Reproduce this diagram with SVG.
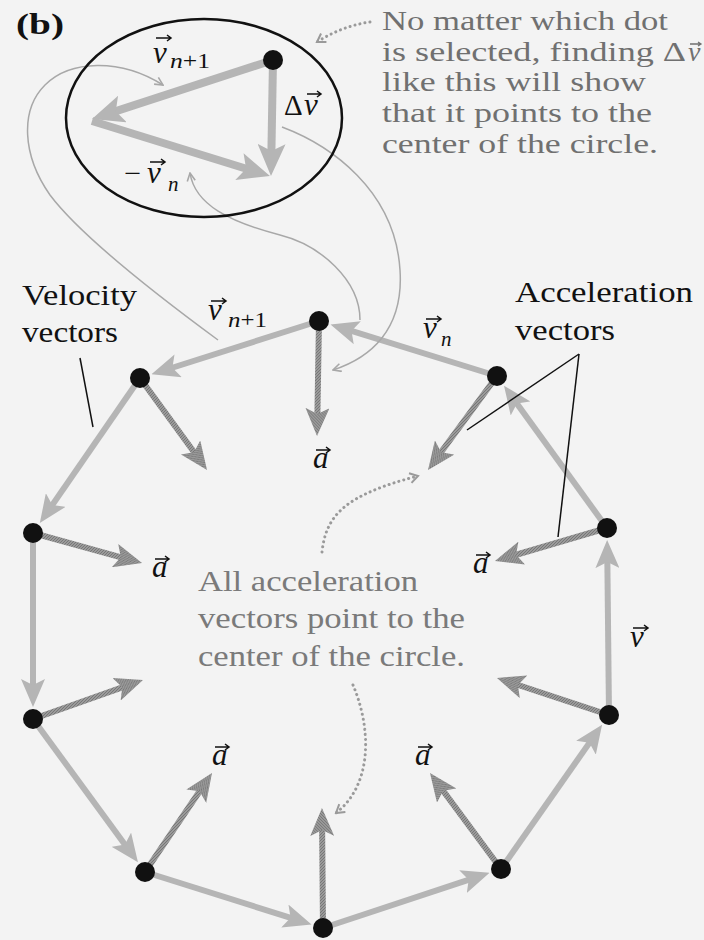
<svg xmlns="http://www.w3.org/2000/svg" width="704" height="940" viewBox="0 0 704 940">
<defs>
<pattern id="hatch" width="3" height="3" patternUnits="userSpaceOnUse">
<rect width="3" height="3" fill="#9a9a9a"/>
<path d="M0,3 L3,0" stroke="#777" stroke-width="1"/>
</pattern>
<marker id="hv" viewBox="0 0 28 24" refX="12" refY="12" markerWidth="28" markerHeight="24" markerUnits="userSpaceOnUse" orient="auto"><path d="M0,0 L28,12 L0,24 L6,12 z" fill="#b5b5b5"/></marker>
<marker id="ha" viewBox="0 0 28 24" refX="12" refY="12" markerWidth="28" markerHeight="24" markerUnits="userSpaceOnUse" orient="auto"><path d="M0,0 L28,12 L0,24 L6,12 z" fill="url(#hatch)"/></marker>
<marker id="hb" viewBox="0 0 32 28" refX="14" refY="14" markerWidth="32" markerHeight="28" markerUnits="userSpaceOnUse" orient="auto"><path d="M0,0 L32,14 L0,28 L7,14 z" fill="#b5b5b5"/></marker>
<marker id="ht" viewBox="0 0 10 10" refX="9" refY="5" markerWidth="10" markerHeight="10" markerUnits="userSpaceOnUse" orient="auto"><path d="M1,1 L9,5 L1,9" stroke="#a8a8a8" stroke-width="1.6" fill="none"/></marker>
<marker id="hd" viewBox="0 0 12 12" refX="10" refY="6" markerWidth="12" markerHeight="12" markerUnits="userSpaceOnUse" orient="auto"><path d="M2,1 L10,6 L2,11" stroke="#9a9a9a" stroke-width="2" fill="none"/></marker>
</defs>
<style>
.vel{stroke:#b5b5b5;stroke-width:6;fill:none;marker-end:url(#hv)}
.acc{stroke:url(#hatch);stroke-width:6;fill:none;marker-end:url(#ha)}
.big{stroke:#b5b5b5;stroke-width:8;fill:none;marker-end:url(#hb)}
.thin{stroke:#a8a8a8;stroke-width:1.5;fill:none;marker-end:url(#ht)}
.dotted{stroke:#9a9a9a;stroke-width:3;stroke-dasharray:0.1 5;stroke-linecap:round;fill:none;marker-end:url(#hd)}
.lead{stroke:#111;stroke-width:1.5;fill:none}
text{font-family:"Liberation Serif","Times New Roman",Times,Tinos,"Nimbus Roman","Nimbus Roman No9 L",FreeSerif,serif}
.note{font-size:28px;fill:#707070}
.note2{font-size:30px;fill:#7a7a7a}
.lab{font-size:29px;fill:#111}
.bold{font-size:29px;font-weight:bold;fill:#111}
.it{font-style:italic;font-size:31px;fill:#111}
.sub{font-size:21px;fill:#111}
.ov{stroke:#111;stroke-width:1.5;fill:none}
.dot{fill:#111}
</style>
<rect width="704" height="940" fill="#f3f3f3"/>

<g id="connectors">
<line class="vel" x1="319" y1="321" x2="166.7" y2="369.5"/>
<line class="vel" x1="140" y1="378" x2="48.9" y2="509.9"/>
<line class="vel" x1="33" y1="533" x2="33" y2="691"/>
<line class="vel" x1="33" y1="719" x2="128.5" y2="849.4"/>
<line class="vel" x1="145" y1="872" x2="296.3" y2="919.6"/>
<line class="vel" x1="323" y1="928" x2="474.4" y2="877.8"/>
<line class="vel" x1="501" y1="869" x2="592.9" y2="737.9"/>
<line class="vel" x1="609" y1="715" x2="607.3" y2="556"/>
<line class="vel" x1="607" y1="528" x2="513.4" y2="398.7"/>
<line class="vel" x1="497" y1="376" x2="345.8" y2="329.2"/>
<line class="acc" x1="319" y1="321" x2="317.3" y2="420"/>
<line class="acc" x1="140" y1="378" x2="197.6" y2="457.1"/>
<line class="acc" x1="33" y1="533" x2="126.6" y2="558.8"/>
<line class="acc" x1="33" y1="719" x2="127.9" y2="685.3"/>
<line class="acc" x1="145" y1="872" x2="203" y2="786.3"/>
<line class="acc" x1="323" y1="928" x2="322.1" y2="824"/>
<line class="acc" x1="501" y1="869" x2="439.5" y2="785.9"/>
<line class="acc" x1="609" y1="715" x2="512.2" y2="683"/>
<line class="acc" x1="607" y1="528" x2="510.3" y2="556.5"/>
<line class="acc" x1="497" y1="376" x2="437.5" y2="457.1"/>
<line class="big" x1="273" y1="60" x2="109.1" y2="113.4"/>
<line class="big" x1="92" y1="121" x2="252.8" y2="170.7"/>
<line class="big" x1="273" y1="60" x2="271.3" y2="158"/>
<path class="thin" d="M218,340 C150,290 80,235 50,195 C22,155 20,110 45,85 C70,60 120,58 163,85"/>
<path class="thin" d="M360,320 C360,280 320,245 280,235 C230,222 195,205 190,173"/>
<path class="thin" d="M282,127 C330,145 395,190 400,270 C404,330 370,358 333,370"/>
<path class="dotted" d="M370,22 Q342,26 317,42"/>
<path class="dotted" d="M322,552 C326,515 345,495 418,476"/>
<path class="dotted" d="M353,685 C372,730 372,785 336,813"/>
<line class="lead" x1="80" y1="358" x2="93" y2="427"/>
<line class="lead" x1="579" y1="354" x2="467" y2="430"/>
<line class="lead" x1="579" y1="354" x2="558" y2="537"/>
</g>

<g id="ellipse">
<ellipse cx="204" cy="118" rx="138" ry="99" fill="none" stroke="#111" stroke-width="2.5"/>
</g>

<g id="dot-e"><circle class="dot" cx="273" cy="60" r="10"/></g>
<g id="dot-0"><circle class="dot" cx="319" cy="321" r="10"/></g>
<g id="dot-1"><circle class="dot" cx="140" cy="378" r="10"/></g>
<g id="dot-2"><circle class="dot" cx="33" cy="533" r="10"/></g>
<g id="dot-3"><circle class="dot" cx="33" cy="719" r="10"/></g>
<g id="dot-4"><circle class="dot" cx="145" cy="872" r="10"/></g>
<g id="dot-5"><circle class="dot" cx="323" cy="928" r="10"/></g>
<g id="dot-6"><circle class="dot" cx="501" cy="869" r="10"/></g>
<g id="dot-7"><circle class="dot" cx="609" cy="715" r="10"/></g>
<g id="dot-8"><circle class="dot" cx="607" cy="528" r="10"/></g>
<g id="dot-9"><circle class="dot" cx="497" cy="376" r="10"/></g>

<g id="label-b">
<text class="bold" x="16" y="34" textLength="48" lengthAdjust="spacingAndGlyphs">(b)</text>
</g>

<g id="label-ellipse-vn1">
<text class="it" x="153" y="63">v</text>
<text class="sub" x="170" y="68" textLength="40" lengthAdjust="spacingAndGlyphs"><tspan font-style="italic">n</tspan>+1</text>
<path class="ov" d="M156,38 H171 M167,35 L171,38 L167,41"/>
</g>
<g id="label-ellipse-dv">
<text class="lab" x="284" y="115" font-size="28">Δ</text>
<text class="it" x="304" y="115">v</text>
<path class="ov" d="M307,94 H321 M317,91 L321,94 L317,97"/>
</g>
<g id="label-ellipse-mvn">
<text class="lab" x="124" y="183" textLength="17" lengthAdjust="spacingAndGlyphs">−</text>
<text class="it" x="147" y="183">v</text>
<text class="sub" x="168" y="191" font-style="italic">n</text>
<path class="ov" d="M150,162 H165 M161,159 L165,162 L161,165"/>
</g>

<g id="label-note-top">
<text class="note" x="382" y="30" textLength="286" lengthAdjust="spacingAndGlyphs">No matter which dot</text>
<text class="note" x="382" y="61" textLength="304" lengthAdjust="spacingAndGlyphs">is selected, finding Δ</text>
<text class="note" x="688" y="61" font-style="italic">v</text>
<path d="M690,44 H701 M698,42 L701,44 L698,46" stroke="#707070" stroke-width="1.3" fill="none"/>
<text class="note" x="382" y="91" textLength="264" lengthAdjust="spacingAndGlyphs">like this will show</text>
<text class="note" x="382" y="122" textLength="270" lengthAdjust="spacingAndGlyphs">that it points to the</text>
<text class="note" x="382" y="153" textLength="276" lengthAdjust="spacingAndGlyphs">center of the circle.</text>
</g>

<g id="label-velocity">
<text class="lab" x="22" y="305" textLength="115" lengthAdjust="spacingAndGlyphs">Velocity</text>
<text class="lab" x="22" y="342" textLength="96" lengthAdjust="spacingAndGlyphs">vectors</text>
</g>
<g id="label-acceleration">
<text class="lab" x="515" y="302" textLength="178" lengthAdjust="spacingAndGlyphs">Acceleration</text>
<text class="lab" x="515" y="340" textLength="100" lengthAdjust="spacingAndGlyphs">vectors</text>
</g>

<g id="label-vn1">
<text class="it" x="208" y="320">v</text>
<text class="sub" x="228" y="327" textLength="39" lengthAdjust="spacingAndGlyphs"><tspan font-style="italic">n</tspan>+1</text>
<path class="ov" d="M211,301 H226 M222,298 L226,301 L222,304"/>
</g>
<g id="label-vn">
<text class="it" x="423" y="338">v</text>
<text class="sub" x="441" y="346" font-style="italic">n</text>
<path class="ov" d="M426,319 H441 M437,316 L441,319 L437,322"/>
</g>
<g id="label-v">
<text class="it" x="630" y="647">v</text>
<path class="ov" d="M633,628 H648 M644,625 L648,628 L644,631"/>
</g>
<g id="label-a-top">
<text class="it" x="313" y="468">a</text>
<path class="ov" d="M316,450 H330 M326,447 L330,450 L326,453"/>
</g>
<g id="label-a-left">
<text class="it" x="152" y="577">a</text>
<path class="ov" d="M155,559 H169 M165,556 L169,559 L165,562"/>
</g>
<g id="label-a-right">
<text class="it" x="473" y="573">a</text>
<path class="ov" d="M476,555 H490 M486,552 L490,555 L486,558"/>
</g>
<g id="label-a-bl">
<text class="it" x="212" y="765">a</text>
<path class="ov" d="M215,747 H229 M225,744 L229,747 L225,750"/>
</g>
<g id="label-a-br">
<text class="it" x="415" y="765">a</text>
<path class="ov" d="M418,747 H432 M428,744 L432,747 L428,750"/>
</g>

<g id="label-note-mid">
<text class="note2" x="198" y="591" textLength="220" lengthAdjust="spacingAndGlyphs">All acceleration</text>
<text class="note2" x="198" y="628" textLength="267" lengthAdjust="spacingAndGlyphs">vectors point to the</text>
<text class="note2" x="198" y="666" textLength="267" lengthAdjust="spacingAndGlyphs">center of the circle.</text>
</g>
</svg>
